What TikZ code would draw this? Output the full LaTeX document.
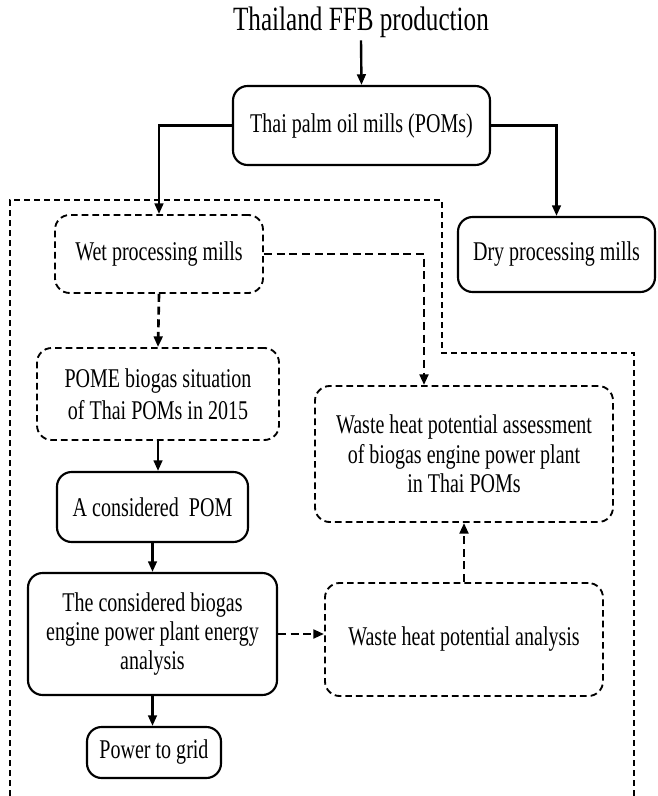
\documentclass[tikz,border=0pt]{standalone}
\usepackage{fontspec}
\setmainfont{Liberation Serif}[FakeStretch=0.74]
\usetikzlibrary{arrows.meta,positioning,calc}

\begin{document}
\begin{tikzpicture}[x=0.75pt,y=-0.75pt,
  solidbox/.style={draw,line width=1.6pt,rounded corners=11pt,align=center,inner sep=2pt,
    font=\fontsize{20.3}{22}\selectfont},
  dashbox/.style={solidbox,dash pattern=on 5pt off 3pt,line width=1.4pt},
  flow/.style={line width=1.8pt,-{Triangle[length=8pt,width=6.5pt]}},
  dflow/.style={flow,dash pattern=on 6pt off 3.5pt,line width=2pt}]
  \useasboundingbox (0,0) rectangle (657,796);
  % outer dashed region
  \draw[line width=1.1pt,dash pattern=on 4.5pt off 3pt] (10,796) -- (10,200) -- (442,200) -- (442,353) -- (634,353) -- (634,796);
  \node[font=\fontsize{25.5}{28}\selectfont,inner sep=2pt] (ffb) at (361,22) {Thailand FFB production};
  \node[solidbox,minimum width=192.75pt,minimum height=59.25pt] (poms) at (361.5,125.5) {Thai palm oil mills (POMs)};
  \node[solidbox,minimum width=147.75pt,minimum height=56.25pt] (dry) at (556.5,254.5) {Dry processing mills};
  \node[dashbox,minimum width=156pt,minimum height=58.5pt] (wet) at (159,254) {Wet processing mills};
  \node[dashbox,minimum width=181.5pt,minimum height=69pt,font=\fontsize{20.3}{24}\selectfont] (pome) at (158,394) {POME biogas situation\\of Thai POMs in 2015};
  \node[solidbox,minimum width=143.25pt,minimum height=52.5pt] (cpom) at (152.5,507) {A considered\ \ POM};
  \node[solidbox,minimum width=186.75pt,minimum height=91.5pt] (engine) at (152.5,634) {The considered biogas\\engine power plant energy\\analysis};
  \node[solidbox,minimum width=100.5pt,minimum height=38.25pt] (grid) at (154,752.5) {Power to grid};
  \node[dashbox,minimum width=208.5pt,minimum height=84.75pt] (whpa) at (464,639.5) {Waste heat potential analysis};
  \node[dashbox,minimum width=223.5pt,minimum height=102pt] (assess) at (464,454) {Waste heat potential assessment\\of biogas engine power plant\\in Thai POMs};
  \coordinate (wetturn) at (424,254);
  % connectors
  \draw[flow] (ffb.south) -- (poms.north);
  \draw[flow] (poms.west) -| (wet.north);
  \draw[flow] (poms.east) -| (dry.north);
  \draw[dflow] (wet.east) -- (wetturn) -- (wetturn |- assess.north);
  \draw[dflow] (wet.south) -- (pome.north);
  \draw[flow] (pome.south) -- (pome.south |- cpom.north);
  \draw[flow] (cpom.south) -- (cpom.south |- engine.north);
  \draw[flow] (engine.south) -- (engine.south |- grid.north);
  \draw[dflow] (engine.east) -- (engine.east -| whpa.west);
  \draw[dflow] (whpa.north) -- (assess.south);
\end{tikzpicture}
\end{document}
